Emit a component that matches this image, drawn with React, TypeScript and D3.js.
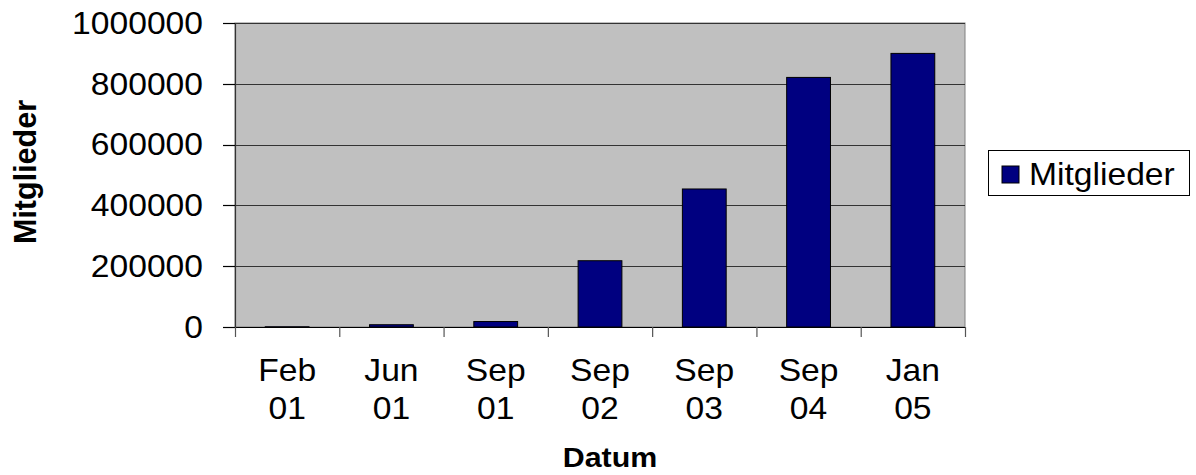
import React from "react";
import * as d3 from "d3";

const categories = ["Feb 01", "Jun 01", "Sep 01", "Sep 02", "Sep 03", "Sep 04", "Jan 05"];
const values = [800, 7500, 18000, 218000, 454000, 821000, 900000];
const yTicks = [0, 200000, 400000, 600000, 800000, 1000000];
const seriesName = "Mitglieder";
const xTitle = "Datum";
const yTitle = "Mitglieder";

const W = 1196, H = 475;
const L = 235, R = 965, T = 23, B = 327;
const FONT = "'Liberation Sans', Arial, sans-serif";
const SX = 1.085;

function SText(props: { x: number; y: number; anchor?: string; size: number; bold?: boolean; dy?: string; children: React.ReactNode }) {
  return (
    <g transform={`translate(${props.x},${props.y}) scale(${SX},1)`}>
      <text x={0} y={0} dy={props.dy} textAnchor={props.anchor || "start"} fontFamily={FONT} fontSize={props.size}
        fontWeight={props.bold ? "bold" : "normal"} fill="#000">{props.children}</text>
    </g>
  );
}

export default function App() {
  const x = d3.scaleBand<string>().domain(categories).range([L, R]).paddingInner(0).paddingOuter(0);
  const y = d3.scaleLinear().domain([0, 1000000]).range([B, T]);
  const bw = x.bandwidth() * 0.42;
  const boundaries = d3.range(categories.length + 1).map(i => L + i * x.step());
  return (
    <svg width={W} height={H} style={{ position: "absolute", left: 0, top: 0, background: "#fff" }}>
      <rect x={L} y={T} width={R - L} height={B - T} fill="#c0c0c0" stroke="#808080" strokeWidth={1} />
      {yTicks.slice(1).map(t => (
        <line key={t} x1={L} x2={R} y1={Math.round(y(t)) + 0.5} y2={Math.round(y(t)) + 0.5} stroke="#333" strokeWidth={1} />
      ))}
      {categories.map((c, i) => {
        const cx = x(c)! + x.bandwidth() / 2;
        const yv = y(values[i]);
        return (
          <rect key={c} x={cx - bw / 2} y={yv} width={bw} height={Math.max(0, B - yv)} fill="#000080" stroke="#000" strokeWidth={1} />
        );
      })}
      <line x1={L + 0.5} x2={L + 0.5} y1={T} y2={B} stroke="#333" strokeWidth={1.2} />
      <line x1={L - 12} x2={R} y1={B + 0.5} y2={B + 0.5} stroke="#000" strokeWidth={1.2} />
      {yTicks.map(t => (
        <g key={t}>
          <line x1={L - 12} x2={L} y1={Math.round(y(t)) + 0.5} y2={Math.round(y(t)) + 0.5} stroke="#000" strokeWidth={1.2} />
          <SText x={203} y={y(t)} dy="0.35em" anchor="end" size={31}>{t}</SText>
        </g>
      ))}
      {boundaries.map((b, i) => (
        <line key={i} x1={b + 0.5} x2={b + 0.5} y1={B} y2={B + 10} stroke="#555" strokeWidth={1.2} />
      ))}
      {categories.map(c => {
        const cx = x(c)! + x.bandwidth() / 2;
        const [a, b2] = c.split(" ");
        return (
          <g key={c}>
            <SText x={cx} y={381} anchor="middle" size={31}>{a}</SText>
            <SText x={cx} y={419} anchor="middle" size={31}>{b2}</SText>
          </g>
        );
      })}
      <SText x={(L + R) / 2 + 10} y={467} anchor="middle" size={28} bold>{xTitle}</SText>
      <text transform={`translate(36,${172}) rotate(-90)`} textAnchor="middle" fontFamily={FONT} fontSize={30.5} fontWeight="bold">{yTitle}</text>
      <rect x={988.5} y={150.5} width={201} height={45} fill="#fff" stroke="#000" strokeWidth={1} />
      <rect x={1002} y={166} width={17} height={17} fill="#000080" stroke="#000" strokeWidth={1} />
      <SText x={1029} y={174.5} dy="0.35em" size={31}>{seriesName}</SText>
    </svg>
  );
}
